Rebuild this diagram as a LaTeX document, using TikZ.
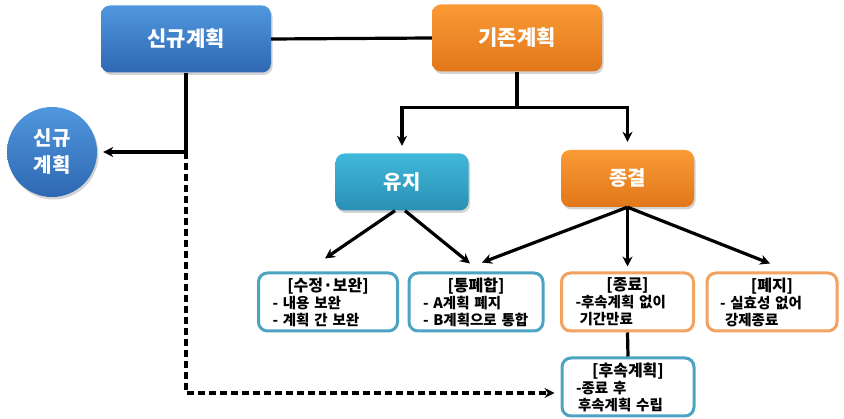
\documentclass[tikz,border=0pt]{standalone}
\usepackage{fontspec}
\setmainfont{Noto Sans CJK KR}
\usetikzlibrary{arrows.meta,shadows}
\definecolor{blueT}{HTML}{5097DE}
\definecolor{blueB}{HTML}{2F68B2}
\definecolor{orangeT}{HTML}{FA9A36}
\definecolor{orangeB}{HTML}{E1771A}
\definecolor{tealT}{HTML}{40B8DA}
\definecolor{tealB}{HTML}{2A90B4}
\definecolor{tealline}{HTML}{4CA4C2}
\definecolor{orangeline}{HTML}{F2A261}
\newcommand{\boxtitle}[1]{{\centering\fontsize{16}{18}\selectfont #1\par}}
\begin{document}
\begin{tikzpicture}[x=1pt,y=-1pt,
  shad/.style={drop shadow={opacity=0.35,shadow xshift=1.5pt,shadow yshift=-2.5pt}},
  bigbox/.style={shad,rounded corners=9pt,minimum width=170pt,minimum height=67pt,
    text=white,font=\fontsize{21}{24}\selectfont\bfseries},
  midbox/.style={shad,rounded corners=9pt,minimum width=133pt,minimum height=57pt,
    text=white,font=\fontsize{20}{23}\selectfont\bfseries},
  blueshade/.style={top color=blueT,bottom color=blueB},
  orangeshade/.style={top color=orangeT,bottom color=orangeB},
  tealshade/.style={top color=tealT,bottom color=tealB},
  infobox/.style={draw,line width=3pt,rounded corners=9pt,fill=white,
    minimum height=58pt,inner xsep=0pt,inner ysep=2pt,align=left,
    font=\fontsize{14.5}{17}\selectfont\bfseries},
  conn/.style={line width=3.2pt,draw=black},
  arr/.style={conn,-{Stealth[length=10pt,width=10pt]}},
  dasharr/.style={conn,dash pattern=on 7pt off 4pt,-{Stealth[length=10pt,width=10pt]}}
]
\useasboundingbox (0,0) rectangle (844,419);

\node[bigbox,blueshade] (sg) at (186,39) {신규계획};
\node[bigbox,orangeshade] (gj) at (517,38) {기존계획};
\node[shad,circle,minimum size=90pt,inner sep=0pt,top color=blueT,bottom color=blueB,
  text=white,align=center,font=\fontsize{20}{27}\selectfont\bfseries] (circ) at (52,152) {신규\\계획};
\node[midbox,tealshade] (yj) at (402,182) {유지};
\node[midbox,orangeshade] (jg) at (627.5,178.5) {종결};

\node[infobox,draw=tealline,minimum width=139pt,text width=111pt] (sj) at (328,302)
  {\boxtitle{[수정·보완]}- 내용 보완\\- 계획 간 보완};
\node[infobox,draw=tealline,minimum width=134pt,text width=106pt] (tp) at (476,302)
  {\boxtitle{[통폐합]}- A계획 폐지\\- B계획으로 통합};
\node[infobox,draw=orangeline,minimum width=132pt,text width=104pt] (jr) at (627.5,302)
  {\boxtitle{[종료]}-후속계획 없이\\\hspace*{4pt}기간만료};
\node[infobox,draw=orangeline,minimum width=130pt,text width=104pt] (pj) at (772,302)
  {\boxtitle{[폐지]}- 실효성 없어\\\hspace*{5pt}강제종료};
\node[infobox,draw=tealline,minimum width=132pt,text width=104pt] (hs) at (628,387)
  {\boxtitle{[후속계획]}-종료 후\\\hspace*{2pt}후속계획 수립};

% connectors
\draw[conn] (sg.east) -- (gj.west);
\coordinate (j1) at (sg.south |- circ.east);
\draw[conn] (sg.south) -- (j1);
\draw[arr] (j1) -- ([xshift=6pt]circ.east);
\draw[dasharr] (j1) |- ([xshift=-6pt,yshift=-6pt]hs.west);

\coordinate (sp) at ([yshift=-35.5pt]gj.south);
\draw[conn] (gj.south) -- (sp);
\draw[arr] (sp) -| ([yshift=7.5pt]yj.north);
\draw[arr] (sp) -| ([yshift=8pt]jg.north);

\draw[arr] ([xshift=-7pt]yj.south) -- ([xshift=-3pt,yshift=13pt]sj.north);
\draw[arr] ([xshift=3pt]yj.south) -- ([xshift=-6pt,yshift=8pt]tp.north);
\draw[arr] (jg.south) -- ([xshift=6pt,yshift=9pt]tp.north);
\draw[arr] (jg.south) -- ([yshift=5pt]jr.north);
\draw[arr] (jg.south) -- ([xshift=-2pt,yshift=8pt]pj.north);
\draw[conn] (jr.south) -- (hs.north);
\end{tikzpicture}
\end{document}
